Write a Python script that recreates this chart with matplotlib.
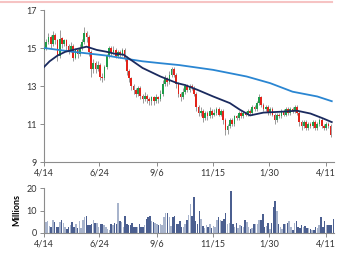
import numpy as np
import matplotlib
matplotlib.use("Agg")
import matplotlib.pyplot as plt
from matplotlib.lines import Line2D

# ---- data ----
# one candle every 2 trading days, open = previous close
closes = [15.0, 15.3, 15.6, 15.2, 15.7, 15.4, 14.6, 15.5, 15.2, 15.4,
          15.1, 14.9, 15.1, 14.5, 14.9, 14.7, 15.0, 15.3, 15.8, 15.6,
          14.8, 13.9, 14.2, 13.9, 14.1, 13.5, 13.4, 14.0, 14.6, 15.0,
          14.8, 14.9, 14.6, 14.8, 14.7, 14.9, 14.5, 13.8, 13.4, 13.0,
          12.8, 12.6, 12.9, 12.5, 12.3, 12.5, 12.3, 12.2, 12.4, 12.2,
          12.4, 12.3, 12.6, 13.1, 13.4, 13.2, 13.6, 13.9, 13.6, 13.1,
          12.6, 12.4, 12.7, 13.0, 12.8, 13.0, 12.9, 12.6, 11.9, 11.6,
          11.7, 11.3, 11.6, 11.4, 11.7, 11.5, 11.6, 11.8, 11.5, 11.7,
          11.2, 10.7, 10.9, 11.2, 11.0, 11.4, 11.3, 11.6, 11.4, 11.6,
          11.5, 11.7, 11.6, 11.9, 11.8, 12.1, 12.4, 12.0, 11.8, 11.9,
          11.6, 11.8, 11.5, 11.2, 11.5, 11.4, 11.7, 11.5, 11.8, 11.6,
          11.8, 11.7, 11.9, 11.6, 11.1, 10.9, 11.1, 10.8, 11.0, 10.9,
          11.1, 10.8, 11.0, 11.2, 10.9, 10.8, 11.0, 10.9, 10.4]
highs = [15.2, 15.5, 15.8, 15.7, 15.9, 15.8, 15.5, 15.95, 15.6, 15.5,
         15.5, 15.2, 15.3, 15.2, 15.0, 15.0, 15.2, 15.5, 16.1, 15.9,
         15.7, 14.9, 14.4, 14.3, 14.3, 14.2, 13.7, 14.1, 14.7, 15.1,
         15.1, 15.1, 15.0, 14.9, 14.9, 15.0, 15.0, 14.6, 13.9, 13.5,
         13.1, 12.9, 13.0, 13.0, 12.6, 12.7, 12.6, 12.4, 12.5, 12.5,
         12.6, 12.5, 12.8, 13.3, 13.6, 13.5, 13.8, 14.0, 14.0, 13.7,
         13.2, 12.7, 12.9, 13.1, 13.1, 13.1, 13.1, 13.0, 12.7, 12.0,
         11.9, 11.8, 11.7, 11.7, 11.9, 11.8, 11.8, 11.9, 11.9, 11.8,
         11.8, 11.3, 11.0, 11.3, 11.3, 11.5, 11.5, 11.7, 11.7, 11.7,
         11.7, 11.8, 11.8, 12.0, 12.0, 12.2, 12.6, 12.5, 12.1, 12.0,
         12.0, 11.9, 11.9, 11.6, 11.6, 11.6, 11.8, 11.8, 11.9, 11.9,
         11.9, 11.9, 12.0, 12.0, 11.7, 11.2, 11.2, 11.2, 11.1, 11.1,
         11.2, 11.2, 11.1, 11.3, 11.3, 11.0, 11.1, 11.1, 11.0]
lows = [14.8, 14.9, 15.2, 15.0, 15.1, 15.2, 14.3, 14.5, 15.0, 15.1,
        14.9, 14.7, 14.8, 14.3, 14.4, 14.5, 14.6, 14.9, 15.2, 15.3,
        14.6, 13.5, 13.7, 13.7, 13.8, 13.3, 13.2, 13.3, 13.9, 14.5,
        14.6, 14.7, 14.5, 14.5, 14.5, 14.6, 14.3, 13.6, 13.2, 12.8,
        12.6, 12.4, 12.5, 12.3, 12.1, 12.2, 12.1, 12.0, 12.0, 12.0,
        12.1, 12.1, 12.2, 12.5, 13.0, 13.0, 13.1, 13.5, 13.5, 12.9,
        12.4, 12.2, 12.3, 12.6, 12.7, 12.7, 12.8, 12.5, 11.7, 11.4,
        11.4, 11.1, 11.2, 11.2, 11.3, 11.3, 11.4, 11.5, 11.4, 11.4,
        11.0, 10.4, 10.5, 10.8, 10.9, 10.9, 11.2, 11.2, 11.3, 11.3,
        11.4, 11.4, 11.5, 11.5, 11.7, 11.7, 12.0, 11.9, 11.7, 11.7,
        11.5, 11.5, 11.4, 11.0, 11.1, 11.3, 11.3, 11.4, 11.4, 11.5,
        11.5, 11.6, 11.6, 11.5, 10.9, 10.7, 10.8, 10.7, 10.7, 10.8,
        10.8, 10.7, 10.7, 10.9, 10.8, 10.7, 10.7, 10.8, 10.3]
first_open = 14.9

# moving averages (day index, value)
ma50_days = [0, 5, 12, 19, 26, 38, 47, 56, 63, 71, 77, 88, 104, 119, 126,
             137, 151, 166, 175, 184, 196, 213, 226, 238, 249, 257]
ma50 = [14.0, 14.3, 14.6, 14.8, 14.9, 15.07, 14.9, 14.8, 14.7, 14.65, 14.4,
        13.95, 13.5, 13.15, 13.05, 12.8, 12.45, 12.1, 11.75, 11.45, 11.6,
        11.65, 11.7, 11.55, 11.3, 11.1]
ma200_days = [0, 26, 56, 77, 88, 104, 121, 151, 181, 202, 222, 244, 257]
ma200 = [15.0, 14.8, 14.6, 14.4, 14.3, 14.2, 14.1, 13.85, 13.5, 13.15,
         12.7, 12.45, 12.2]

# volume in millions, left to right
volume = [4.2, 5.0, 5.4, 3.0, 2.7, 5.7, 5.0, 2.7, 2.7, 5.0, 5.7, 4.5, 2.7,
          2.0, 2.7, 3.5, 5.0, 2.7, 3.9, 2.4, 5.3, 2.4, 6.0, 7.2, 7.5, 3.5,
          3.7, 4.2, 5.7, 4.5, 4.5, 2.7, 3.9, 3.9, 3.7, 2.7, 2.0, 1.2, 4.2,
          3.7, 4.5, 4.2, 13.2, 5.4, 5.0, 2.7, 7.5, 3.9, 3.5,
          3.5, 4.5, 2.7, 2.7, 2.7, 4.2, 2.7, 2.7, 3.5, 6.4, 6.9, 7.5, 5.4,
          5.0, 4.5, 4.2, 3.5, 4.2, 3.5, 6.9, 9.0, 8.7, 7.2, 3.0, 7.2, 7.5,
          3.9, 4.2, 5.4, 2.7, 2.7, 3.9, 6.0, 8.0, 12.9, 7.5, 15.9, 5.4, 4.2,
          9.9, 6.4, 3.0, 2.4, 3.5, 2.7, 3.9, 2.4, 3.0, 2.7, 5.7, 6.9, 6.0,
          5.4, 6.4, 9.0, 4.2, 4.5,
          18.8, 3.9, 2.7, 4.5, 2.4, 3.5, 3.0, 2.7, 5.7, 5.0, 2.7, 2.0, 2.4,
          3.9, 3.9, 4.2, 5.7, 6.0, 8.4, 2.7, 3.0, 4.5, 2.0, 4.5, 11.7, 14.4,
          9.9, 3.9, 2.7, 2.0, 3.9, 3.9, 4.5, 5.4, 2.7, 1.5, 4.5, 5.4, 2.7,
          2.4, 3.5, 2.7, 3.0, 2.4, 2.4, 2.0, 1.5, 1.5, 2.7, 2.4, 3.5, 6.9,
          2.7, 5.4, 3.5, 3.5, 3.5, 3.5, 6.4, 6.0]

tick_days = [0, 49.5, 100.5, 150.5, 201, 252]
tick_labels = ['4/14', '6/24', '9/6', '11/15', '1/30', '4/11']

# ---- plot ----
plt.rcParams['font.family'] = ['Lato', 'DejaVu Sans']
plt.rcParams['font.size'] = 6.5

fig = plt.figure(figsize=(3.37, 2.56), dpi=100)
ax = fig.add_axes([44 / 337, 1 - 162 / 256, 290 / 337, 152 / 256])
axv = fig.add_axes([44 / 337, 1 - 233 / 256, 290 / 337, 45 / 256])

days = np.arange(len(closes)) * 2
opens = [first_open] + closes[:-1]
green, red = '#1e9c48', '#e2231a'
for d, o, c, h, l in zip(days, opens, closes, highs, lows):
    ax.vlines(d, l, h, color='#9a9a9a', lw=0.7, zorder=2)
    col = green if c >= o else red
    ax.bar(d, max(abs(c - o), 0.04), bottom=min(o, c), width=1.5,
           color=col, lw=0, zorder=3)

ax.plot(ma200_days, ma200, color='#2a86d2', lw=1.3, zorder=4)
ax.plot(ma50_days, ma50, color='#1a2a5e', lw=1.3, zorder=4)

ax.set_ylim(9, 17)
ax.set_yticks([9, 11, 13, 15, 17])

# volume bars, shade by direction of nearest candle
vpos = np.linspace(0, 260, len(volume))
vcol = []
for p in vpos:
    k = min(int(round(p / 2)), len(closes) - 1)
    vcol.append('#4b5f90' if closes[k] < opens[k] else '#a8b4cc')
axv.bar(vpos, volume, width=1.35, color=vcol, lw=0)
axv.set_ylim(0, 20)
axv.set_yticks([0, 10, 20])
axv.set_ylabel('Millions', fontweight='bold', labelpad=4)

for a in (ax, axv):
    a.set_xlim(0, 259)
    a.set_xticks(tick_days)
    a.set_xticklabels(tick_labels)
    for s in ('top', 'right'):
        a.spines[s].set_visible(False)
    for s in ('left', 'bottom'):
        a.spines[s].set_color('#8c8c8c')
        a.spines[s].set_linewidth(0.8)
    a.tick_params(length=3, width=0.7, color='#8c8c8c', labelcolor='#333333', pad=2)

# thin pink border line at top
fig.add_artist(Line2D([0, 0.985], [0.992, 0.992], color='#f6c3c3', lw=1.5))

fig.savefig('out.png', dpi=100)
